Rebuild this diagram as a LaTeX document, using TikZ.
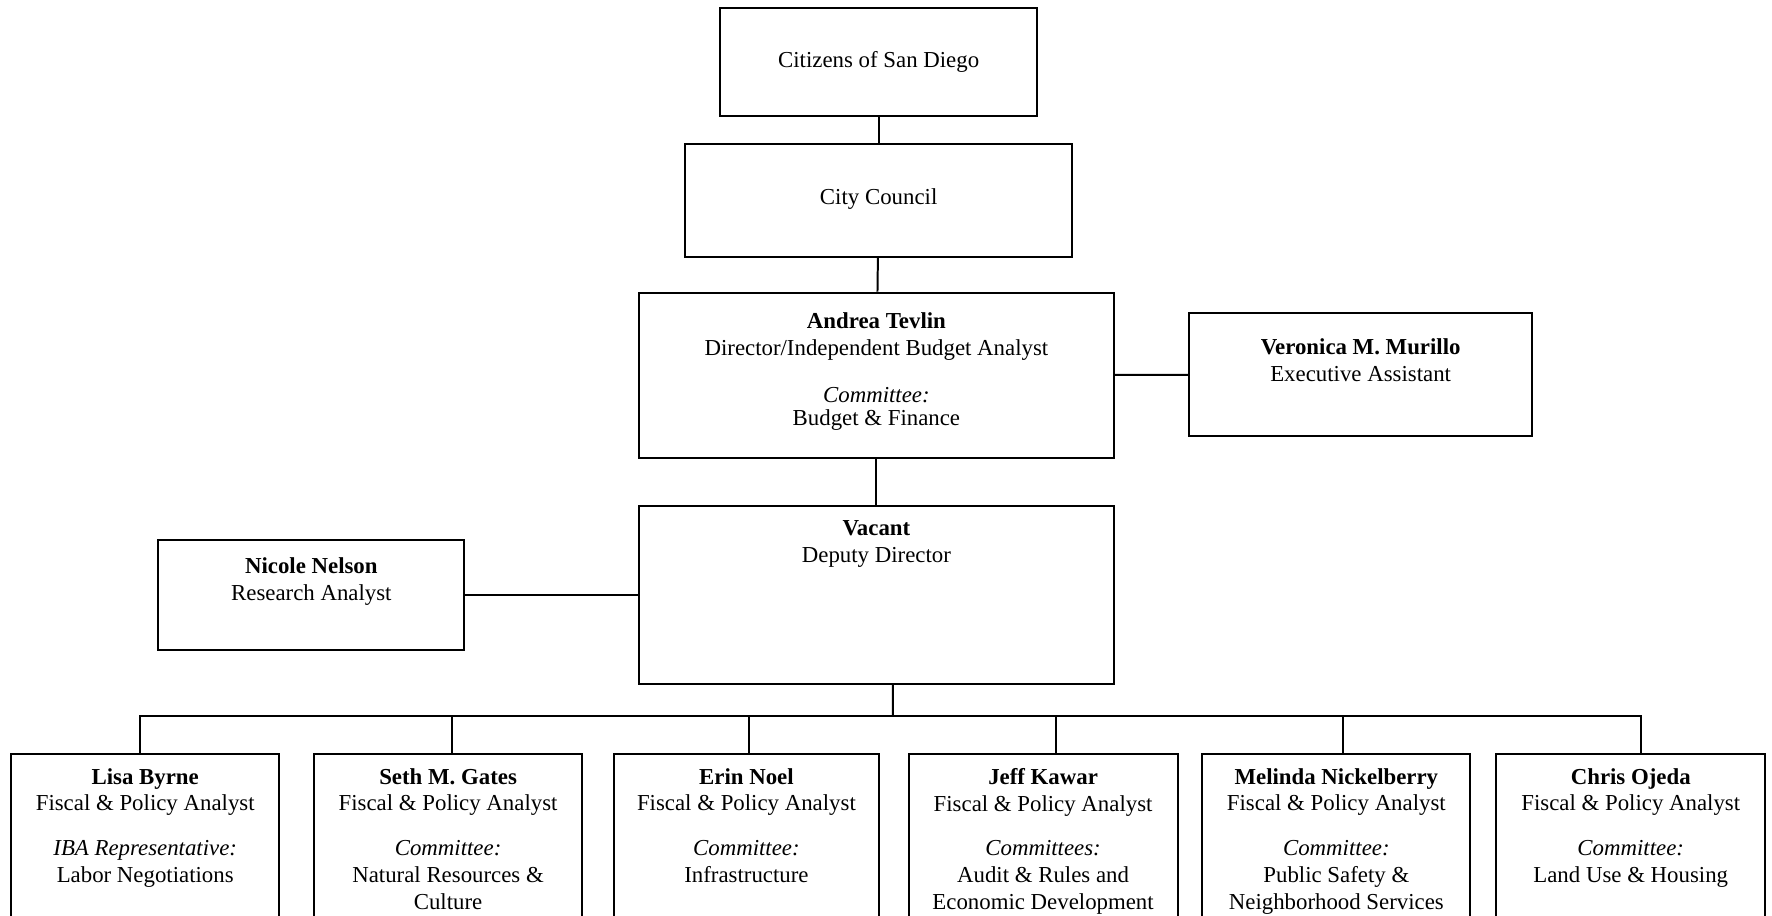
\documentclass[tikz,border=0pt]{standalone}
\usepackage{fontspec}
\setmainfont{Liberation Serif}
\begin{document}
\begin{tikzpicture}[x=0.02cm, y=-0.02cm, line width=1pt,
    box/.style={draw, line width=1pt, inner sep=0pt, font=\fontsize{11.5}{13.5}\selectfont},
    txt/.style={anchor=north, align=center, inner sep=0pt, font=\fontsize{11.5}{13.5}\selectfont}]
  \useasboundingbox (0,0) rectangle (1568,810);
  \clip (0,0) rectangle (1568,810);

  \node[box, minimum width=5.62cm, minimum height=1.92cm] (citizens) at (777.5,55) {Citizens of San Diego};
  \node[box, minimum width=6.86cm, minimum height=2.00cm] (council) at (777.5,177) {\raisebox{3pt}{City Council}};

  \node[box, minimum width=8.42cm, minimum height=2.92cm] (andrea) at (775.5,332) {};
  \node[txt] (andreatext) at (775.5,276) {\textbf{Andrea Tevlin}\\Director/Independent Budget Analyst\\[10pt]\textit{Committee:}\\[-2pt]Budget \& Finance};
  \node[box, minimum width=6.08cm, minimum height=2.18cm] (veronica) at (1204,331.5) {};
  \node[txt] (veronicatext) at (1204,299) {\textbf{Veronica M. Murillo}\\Executive Assistant};

  \node[box, minimum width=8.42cm, minimum height=3.14cm] (vacant) at (775.5,526.5) {};
  \node[txt] (vacanttext) at (775.5,460) {\textbf{Vacant}\\Deputy Director};
  \node[box, minimum width=5.42cm, minimum height=1.94cm] (nicole) at (275.5,526.5) {};
  \node[txt] (nicoletext) at (275.5,493) {\textbf{Nicole Nelson}\\Research Analyst};

  \node[box, minimum width=4.74cm, minimum height=3.26cm] (lisa) at (128.5,748.5) {};
  \node[txt] at (128.5,679) {\textbf{Lisa Byrne}\\Fiscal \& Policy Analyst\\[9pt]\textit{IBA Representative:}\\Labor Negotiations};
  \node[box, minimum width=4.74cm, minimum height=3.26cm] (seth) at (396.5,748.5) {};
  \node[txt] at (396.5,679) {\textbf{Seth M. Gates}\\Fiscal \& Policy Analyst\\[9pt]\textit{Committee:}\\Natural Resources \&\\Culture};
  \node[box, minimum width=4.70cm, minimum height=3.26cm] (erin) at (660.5,748.5) {};
  \node[txt] at (660.5,679) {\textbf{Erin Noel}\\Fiscal \& Policy Analyst\\[9pt]\textit{Committee:}\\Infrastructure};
  \node[box, minimum width=4.76cm, minimum height=3.26cm] (jeff) at (923,748.5) {};
  \node[txt] at (923,679) {\textbf{Jeff Kawar}\\Fiscal \& Policy Analyst\\[9pt]\textit{Committees:}\\Audit \& Rules and\\Economic Development};
  \node[box, minimum width=4.74cm, minimum height=3.26cm] (melinda) at (1182.5,748.5) {};
  \node[txt] at (1182.5,679) {\textbf{Melinda Nickelberry}\\Fiscal \& Policy Analyst\\[9pt]\textit{Committee:}\\Public Safety \&\\Neighborhood Services};
  \node[box, minimum width=4.76cm, minimum height=3.26cm] (chris) at (1443,748.5) {};
  \node[txt] at (1443,679) {\textbf{Chris Ojeda}\\Fiscal \& Policy Analyst\\[9pt]\textit{Committee:}\\Land Use \& Housing};

  \draw (citizens) -- (council);
  \draw (council) -- (andrea);
  \draw (andrea) -- (vacant);
  \draw (andrea) -- (veronica);
  \draw (nicole.east) -- ++(2.9cm,0) |- (vacant.west);

  \coordinate (bus) at (790,634);
  \draw ([xshift=0.29cm]vacant.south) -- (bus);
  \draw ([xshift=-0.09cm]lisa.north) |- ([xshift=0.18cm]chris.north |- bus) -- ([xshift=0.18cm]chris.north);
  \foreach \n/\s in {seth/0.07,erin/0.05,jeff/0.22,melinda/0.11}
    \draw ([xshift=\s cm]\n.north) -- ([xshift=\s cm]\n.north |- bus);
\end{tikzpicture}
\end{document}
